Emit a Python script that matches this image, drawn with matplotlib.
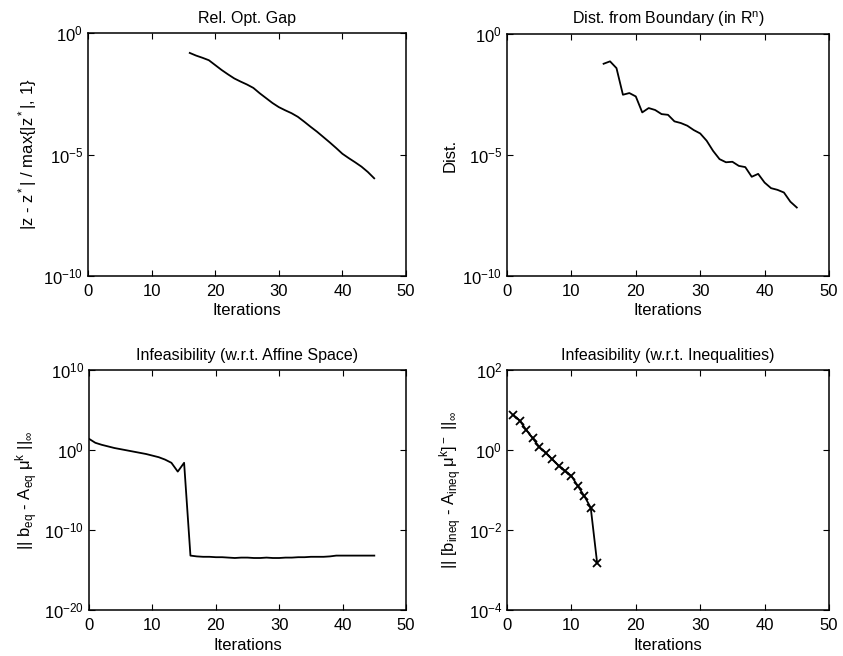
import numpy as np
import matplotlib
matplotlib.use('Agg')
import matplotlib.pyplot as plt
from matplotlib.ticker import NullLocator, FixedLocator

# values (log10 of y)
gap_iter = list(range(16, 46))
gap_log = [-0.82, -0.93, -1.02, -1.12, -1.32, -1.52, -1.70, -1.87, -2.00, -2.12,
           -2.26, -2.48, -2.68, -2.88, -3.05, -3.18, -3.30, -3.45, -3.65, -3.86,
           -4.06, -4.28, -4.50, -4.73, -4.97, -5.15, -5.32, -5.50, -5.72, -5.98]

dist_iter = list(range(15, 46))
dist_log = [-1.23, -1.13, -1.41, -2.51, -2.44, -2.58, -3.24, -3.06, -3.14, -3.31,
            -3.34, -3.61, -3.68, -3.79, -3.97, -4.11, -4.41, -4.83, -5.17, -5.30,
            -5.28, -5.45, -5.50, -5.90, -5.78, -6.14, -6.37, -6.44, -6.55, -6.93, -7.17]

eq_iter = list(range(0, 46))
eq_log = [1.4, 0.9, 0.65, 0.45, 0.25, 0.1, -0.05, -0.2, -0.35, -0.5,
          -0.7, -0.9, -1.2, -1.6, -2.7, -1.6, -13.2, -13.3, -13.35, -13.35,
          -13.4, -13.4, -13.45, -13.5, -13.45, -13.45, -13.5, -13.5, -13.45, -13.5,
          -13.5, -13.45, -13.45, -13.4, -13.4, -13.35, -13.35, -13.35, -13.3, -13.2,
          -13.2, -13.2, -13.2, -13.2, -13.2, -13.2]

ineq_iter = list(range(1, 15))
ineq_log = [0.875, 0.73, 0.5, 0.29, 0.08, -0.07, -0.23, -0.39, -0.52, -0.65,
            -0.9, -1.15, -1.44, -2.83]

plt.rcParams['font.family'] = 'Liberation Sans'
plt.rcParams['font.size'] = 12
plt.rcParams['mathtext.fontset'] = 'custom'
plt.rcParams['mathtext.rm'] = 'Liberation Sans'
plt.rcParams['mathtext.it'] = 'Liberation Sans'
plt.rcParams['mathtext.default'] = 'regular'
plt.rcParams['xtick.direction'] = 'in'
plt.rcParams['ytick.direction'] = 'in'
plt.rcParams['xtick.top'] = True
plt.rcParams['ytick.right'] = True

fig = plt.figure(figsize=(8.43, 6.56), dpi=100)
W, H = 843, 656


def make_ax(l, r, t, b):
    return fig.add_axes([l / W, 1 - b / H, (r - l) / W, (b - t) / H])


ax1 = make_ax(88, 406, 33, 276)
ax2 = make_ax(507, 829, 34, 276)
ax3 = make_ax(89, 406, 370, 610)
ax4 = make_ax(507, 829, 370, 610)

ax1.plot(gap_iter, 10 ** np.array(gap_log), color='black', lw=1.3)
ax2.plot(dist_iter, 10 ** np.array(dist_log), color='black', lw=1.3)
ax3.plot(eq_iter, 10 ** np.array(eq_log), color='black', lw=1.3)
ax4.plot(ineq_iter, 10 ** np.array(ineq_log), color='black', lw=1.3,
         marker='x', markersize=6, markeredgewidth=1.3)

ylims = [(1e-10, 1e0), (1e-10, 1e0), (1e-20, 1e10), (1e-4, 1e2)]
yticks = [[1e-10, 1e-5, 1e0], [1e-10, 1e-5, 1e0],
          [1e-20, 1e-10, 1e0, 1e10], [1e-4, 1e-2, 1e0, 1e2]]
titles = ['Rel. Opt. Gap', 'Dist. from Boundary (in R$^n$)',
          'Infeasibility (w.r.t. Affine Space)', 'Infeasibility (w.r.t. Inequalities)']
ylabels = ['|z - z$^*$| / max{|z$^*$|, 1}', 'Dist.',
           '|| b$_{eq}$ - A$_{eq}$ \u03bc$^k$ ||$_\\infty$',
           '|| [b$_{ineq}$ - A$_{ineq}$ \u03bc$^k$]$^-$ ||$_\\infty$']

for ax, yl, yt, ttl, lab in zip([ax1, ax2, ax3, ax4], ylims, yticks, titles, ylabels):
    ax.set_yscale('log')
    ax.set_ylim(*yl)
    ax.yaxis.set_major_locator(FixedLocator(yt))
    ax.yaxis.set_minor_locator(NullLocator())
    ax.set_xlim(0, 50)
    ax.set_xticks([0, 10, 20, 30, 40, 50])
    ax.tick_params(length=4, width=0.8, labelsize=12)
    ax.tick_params(axis='x', pad=6)
    ax.set_title(ttl, fontsize=11.5, pad=7)
    ax.set_xlabel('Iterations', fontsize=12, labelpad=3)
    ax.set_ylabel(lab, fontsize=12, labelpad=3)
    for s in ax.spines.values():
        s.set_linewidth(1.1)

fig.savefig('out.png', dpi=100)
